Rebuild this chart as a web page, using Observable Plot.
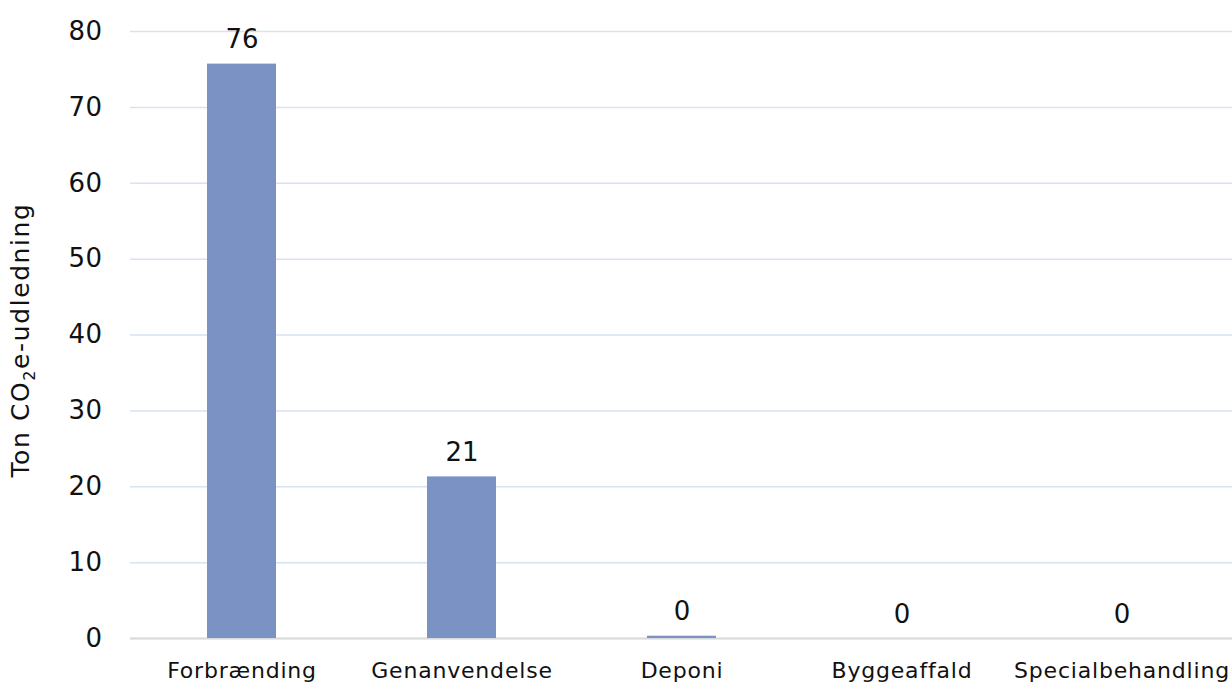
<!DOCTYPE html>
<html>
<head>
<meta charset="utf-8">
<script src="https://cdn.jsdelivr.net/npm/d3@7"></script>
<script src="https://cdn.jsdelivr.net/npm/@observablehq/plot@0.6"></script>
<style>
  html, body { margin: 0; padding: 0; background: #fff; }
  #chart svg { display: block; font-family: "DejaVu Sans", Verdana, sans-serif; }
</style>
</head>
<body>
<div id="chart"></div>
<script>
// Waste treatment categories and their CO2e emissions (tonnes)
const categories = ["Forbrænding", "Genanvendelse", "Deponi", "Byggeaffald", "Specialbehandling"];
const emissions = [75.7, 21.3, 0.3, 0, 0];
const yTicks = [0, 10, 20, 30, 40, 50, 60, 70, 80];

const data = categories.map((c, i) => ({category: c, value: emissions[i]}));
const fmt = d3.format(".0f");

const chart = Plot.plot({
  width: 1232,
  height: 684,
  marginLeft: 130,
  marginRight: 0,
  marginTop: 31,
  marginBottom: 46,
  style: {fontFamily: "DejaVu Sans, Verdana, sans-serif", background: "#fff"},
  x: {domain: categories, label: null, paddingInner: 0.687, paddingOuter: 0.3435},
  y: {domain: [0, 80], label: null},
  marks: [
    Plot.gridY(yTicks, {stroke: "#d9e2f3", strokeOpacity: 1, strokeWidth: 1.5}),
    Plot.ruleY([0], {stroke: "#d9d9d9", strokeWidth: 2}),
    Plot.barY(data, {x: "category", y: "value", fill: "#7b93c4"}),
    Plot.text(data, {
      x: "category", y: "value", text: d => fmt(d.value),
      lineAnchor: "bottom", dy: -16, fontSize: 26, fill: "#111",
      ariaLabel: "value label"
    }),
    Plot.axisY(yTicks, {tickSize: 0, tickPadding: 28, fontSize: 26, fill: "#111", label: null}),
    Plot.axisX({tickSize: 0, tickPadding: 24, fontSize: 22, fill: "#111", label: null})
  ]
});

// Slightly wider letterforms for the labels
const svg = d3.select(chart);
svg.selectAll('g[aria-label="y-axis tick label"] text').style("letter-spacing", "0.5px");
svg.selectAll('g[aria-label="x-axis tick label"] text').style("letter-spacing", "0.8px");
svg.selectAll('g[aria-label="value label"] text').style("letter-spacing", "0.5px");

// Y-axis title with a real subscript in CO2
const title = svg.append("text")
  .attr("transform", "translate(29, 340) rotate(-90)")
  .attr("text-anchor", "middle")
  .attr("font-size", 25)
  .attr("fill", "#111")
  .style("letter-spacing", "1.6px");
title.append("tspan").text("Ton CO");
title.append("tspan").attr("font-size", 16).attr("dy", 6).text("2");
title.append("tspan").attr("dy", -6).text("e-udledning");

document.getElementById("chart").appendChild(chart);
</script>
</body>
</html>
